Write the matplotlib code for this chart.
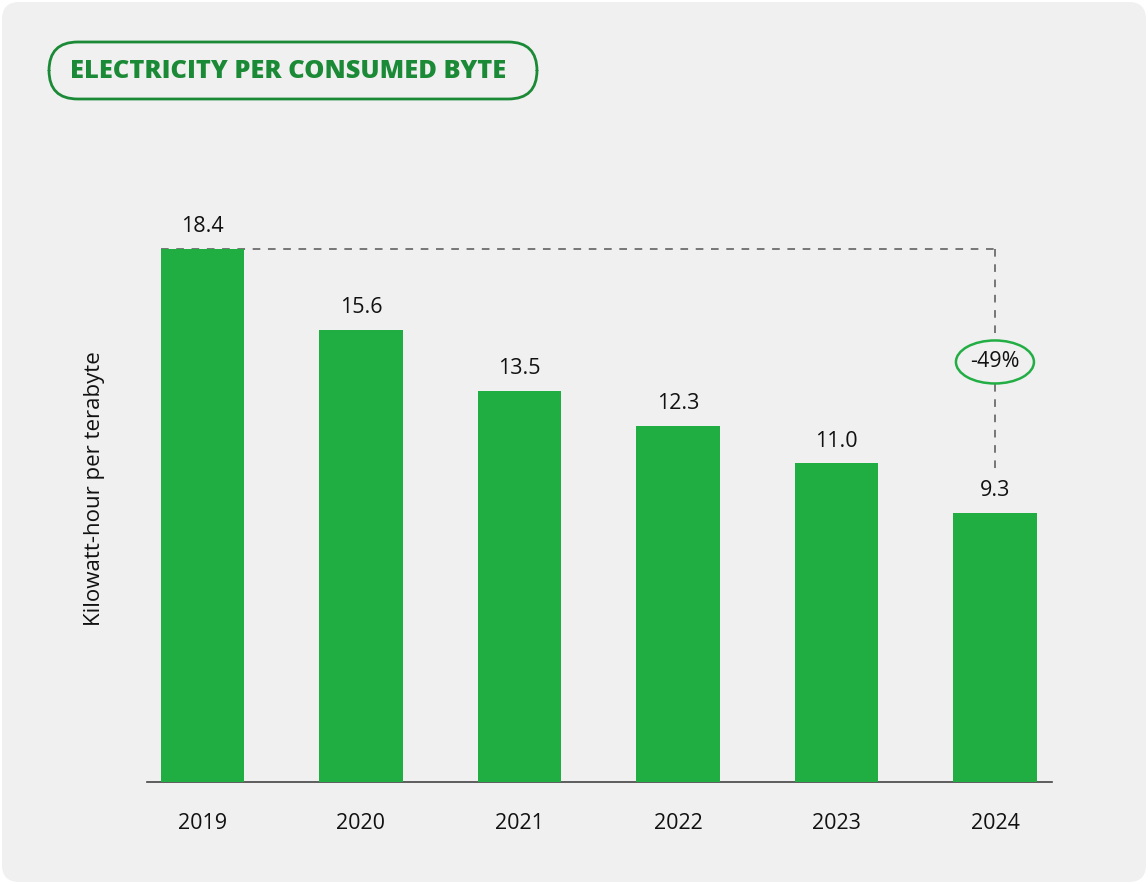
import matplotlib
matplotlib.use("Agg")
import matplotlib.pyplot as plt
from matplotlib.patches import FancyBboxPatch, Ellipse

years = ["2019", "2020", "2021", "2022", "2023", "2024"]
values = [18.4, 15.6, 13.5, 12.3, 11.0, 9.3]
value_labels = ["18.4", "15.6", "13.5", "12.3", "11.0", "9.3"]
change_label = "-49%"
title = "ELECTRICITY PER CONSUMED BYTE"
ylabel = "Kilowatt-hour per terabyte"

plt.rcParams['font.family'] = ['Open Sans', 'DejaVu Sans']

W, H = 1148, 884
fig = plt.figure(figsize=(W / 100, H / 100), dpi=100)
fig.patch.set_facecolor("white")

# background panel
bg = FancyBboxPatch((2 / W, 2 / H), (W - 4) / W, (H - 4) / H,
                    boxstyle="round,pad=0,rounding_size=0.015",
                    transform=fig.transFigure, facecolor="#f0f0f0",
                    edgecolor="none", zorder=-5, mutation_aspect=W / H)
fig.patches.append(bg)

# title pill
tx0, tx1, ty0, ty1 = 49, 537, 42, 99
pill = FancyBboxPatch((tx0 / W, 1 - ty1 / H), (tx1 - tx0) / W, (ty1 - ty0) / H,
                      boxstyle="round,pad=0,rounding_size=0.025",
                      transform=fig.transFigure, facecolor="none",
                      edgecolor="#1b8a36", linewidth=2, zorder=2,
                      mutation_aspect=W / H)
fig.patches.append(pill)
fig.text(70 / W, 1 - 71 / H, title, color="#1b8a36", fontsize=18.3,
         fontweight="heavy", va="center", ha="left")

# axes
ax_l, ax_r, ax_b, ax_t = 147, 1052, 782, 150
ax = fig.add_axes([ax_l / W, 1 - ax_b / H, (ax_r - ax_l) / W, (ax_b - ax_t) / H])
ax.set_facecolor("none")
px_per_unit = 533 / 18.4
ax.set_ylim(0, (ax_b - ax_t) / px_per_unit)
ax.set_xlim(-0.35, 5.36)

x = list(range(len(years)))
bar_w = 0.525
ax.bar(x, values, width=bar_w, color="#20ad41", zorder=3)

for xi, v, lab in zip(x, values, value_labels):
    ax.text(xi, v + 0.58, lab, ha="center", va="baseline", fontsize=15.5,
            fontweight="medium", color="#111111", zorder=4)

# dashed bracket
top = values[0]
ax.plot([x[0] - bar_w / 2, x[-1]], [top, top], linestyle=(0, (5, 5)),
        color="#555555", linewidth=1.1, zorder=2)
y_mid = top - 3.9
ax.plot([x[-1], x[-1]], [top, y_mid + 0.75], linestyle=(0, (5, 5)),
        color="#555555", linewidth=1.1, zorder=2)
ax.plot([x[-1], x[-1]], [y_mid - 0.75, values[-1] + 1.4], linestyle=(0, (5, 5)),
        color="#555555", linewidth=1.1, zorder=2)

# ellipse label
ell_w = 78 / ((ax_r - ax_l) / (5.36 + 0.35))
ell_h = 43 / px_per_unit
ax.add_patch(Ellipse((x[-1], y_mid), ell_w, ell_h, facecolor="#f0f0f0",
                     edgecolor="#22ae44", linewidth=1.8, zorder=4))
ax.text(x[-1], y_mid, change_label, ha="center", va="center", fontsize=15.5,
        fontweight="medium", color="#111111", zorder=5)

ax.set_xticks(x)
ax.set_xticklabels(years, fontsize=15.5, fontweight="medium", color="#111111")
ax.tick_params(axis="x", length=0, pad=22)
ax.set_yticks([])
for s in ["top", "right", "left"]:
    ax.spines[s].set_visible(False)
ax.spines["bottom"].set_color("#444444")
ax.spines["bottom"].set_linewidth(1.2)

fig.text(95 / W, 1 - 489 / H, ylabel, rotation=90, ha="center", va="center",
         fontsize=16, fontweight="medium", color="#111111")

fig.savefig("out.png", dpi=100, facecolor=fig.get_facecolor())
